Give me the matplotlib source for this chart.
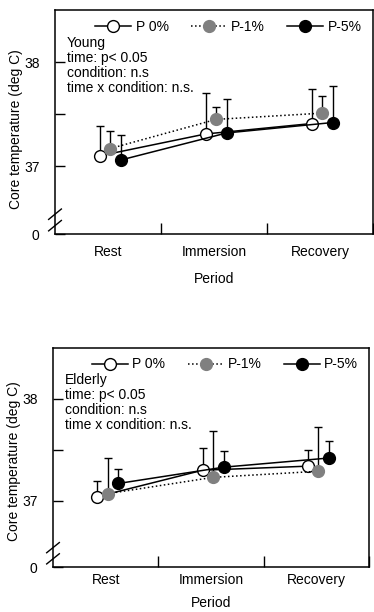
import numpy as np
import matplotlib.pyplot as plt

plt.rcParams['font.family'] = ['Liberation Sans', 'DejaVu Sans']
plt.rcParams['font.size'] = 10

periods = ['Rest', 'Immersion', 'Recovery']
conditions = ['P 0%', 'P-1%', 'P-5%']

# Young
young_mean = {
    'P 0%': [37.10, 37.31, 37.41],
    'P-1%': [37.17, 37.45, 37.51],
    'P-5%': [37.06, 37.32, 37.42],
}
young_sd = {
    'P 0%': [0.29, 0.39, 0.33],
    'P-1%': [0.17, 0.12, 0.16],
    'P-5%': [0.24, 0.33, 0.35],
}

# Elderly
elderly_mean = {
    'P 0%': [37.04, 37.30, 37.34],
    'P-1%': [37.07, 37.23, 37.29],
    'P-5%': [37.17, 37.33, 37.42],
}
elderly_sd = {
    'P 0%': [0.15, 0.22, 0.16],
    'P-1%': [0.35, 0.46, 0.43],
    'P-5%': [0.14, 0.16, 0.17],
}

styles = {
    'P 0%': dict(ls='-', mfc='white', mec='black', off=-0.1),
    'P-1%': dict(ls=':', mfc='#808080', mec='#808080', off=0.0),
    'P-5%': dict(ls='-', mfc='black', mec='black', off=0.1),
}

W, H = 374, 612
fig = plt.figure(figsize=(W / 100, H / 100), dpi=100)


def panel(rect, means, sds, group_txt, tpad, lpad, ylab_y):
    ax = fig.add_axes(rect)
    base = np.arange(len(periods)) + 0.5
    for c in conditions:
        st = styles[c]
        x = base + st['off'] + 0.02
        ax.errorbar(x, means[c], yerr=[np.zeros(3), sds[c]], fmt='none',
                    ecolor='black', elinewidth=1.0, capsize=3.0, capthick=1.0, zorder=2)
        ax.plot(x, means[c], color='black', ls=st['ls'], lw=1.1, marker='o',
                ms=8.5, mfc=st['mfc'], mec=st['mec'], mew=1.0, label=c, zorder=3)

    ax.set_xlim(0, 3)
    ax.set_ylim(36.35, 38.5)
    ax.set_yticks([36.35, 37, 37.5, 38])
    ax.set_yticklabels(['0', '37', '', '38'])
    ax.tick_params(axis='y', direction='in', length=7, width=1.0, pad=11)
    ax.set_xticks([1, 2, 3])
    ax.set_xticklabels(['', '', ''])
    ax.tick_params(axis='x', which='major', direction='in', length=8, width=1.0)
    ax.set_xticks(base, minor=True)
    ax.set_xticklabels(periods, minor=True)
    ax.tick_params(axis='x', which='minor', length=0, pad=tpad)
    for s in ax.spines.values():
        s.set_linewidth(1.1)
    ax.set_xlabel('Period', labelpad=lpad)
    ax.set_ylabel('Core temperature (deg C)')
    ax.yaxis.set_label_coords(-0.10, ylab_y)

    # axis break marks
    for yb in (36.43, 36.54):
        ax.plot([-0.06, 0.06], [yb - 0.05, yb + 0.05], color='black', lw=1.0,
                clip_on=False, zorder=5)

    ax.legend(loc='center', bbox_to_anchor=(0.545, 0.925), ncol=3, frameon=False,
              handlelength=2.6, handletextpad=0.3, columnspacing=1.6,
              borderaxespad=0, fontsize=10)
    ax.text(0.037, 0.885, group_txt + '\ntime: p< 0.05\ncondition: n.s\ntime x condition: n.s.',
            transform=ax.transAxes, va='top', ha='left', linespacing=1.1)
    return ax


panel([55 / W, 1 - 234 / H, 318 / W, 224 / H], young_mean, young_sd, 'Young', 8, 9, 0.47)
panel([53 / W, 1 - 567 / H, 316 / W, 219 / H], elderly_mean, elderly_sd, 'Elderly', 4, 7, 0.485)

fig.savefig('out.png', dpi=100)
